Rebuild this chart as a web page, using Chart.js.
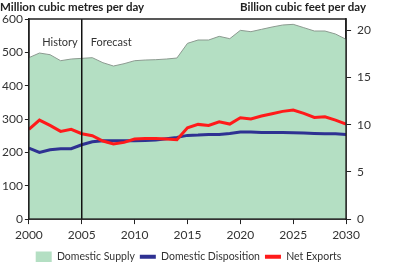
<!DOCTYPE html>
<html>
<head>
<meta charset="utf-8">
<script src="https://cdn.jsdelivr.net/npm/chart.js@4"></script>
<style>
html, body { margin: 0; padding: 0; background: #fff; }
#wrap { width: 400px; height: 269px; }
</style>
</head>
<body>
<div id="wrap"><canvas id="myChart"></canvas></div>
<script>
var years = [2000, 2001, 2002, 2003, 2004, 2005, 2006, 2007, 2008, 2009,
             2010, 2011, 2012, 2013, 2014, 2015, 2016, 2017, 2018, 2019,
             2020, 2021, 2022, 2023, 2024, 2025, 2026, 2027, 2028, 2029, 2030];
var domesticSupply = [484, 498, 493, 475, 480, 482, 484, 469, 459, 466,
                      475, 477, 478, 480, 483, 527, 537, 537, 548, 541,
                      566, 562, 569, 576, 582, 584, 574, 564, 564, 555, 539];
var domesticDisposition = [213, 200, 208, 211, 211, 223, 232, 235, 235, 235,
                           235, 236, 237, 241, 245, 251, 252, 254, 254, 257,
                           261, 261, 260, 260, 260, 259, 258, 257, 256, 256, 254];
var netExports = [269, 297, 281, 263, 269, 256, 250, 234, 225, 230,
                  240, 242, 242, 240, 238, 274, 284, 281, 292, 285,
                  304, 300, 309, 316, 323, 327, 317, 305, 307, 297, 285];
var xTicks = [2000, 2005, 2010, 2015, 2020, 2025, 2030];
var leftTicks = [0, 50, 100, 150, 200, 250, 300, 350, 400, 450, 500, 550, 600];
var rightTicks = [0, 5, 10, 15, 20];
var M3_PER_FT3 = 28.317; // million m3 per billion ft3
var splitYear = 2005;

var FONT = 'Lato, "Open Sans", sans-serif';

function pts(arr) {
    return arr.map(function (v, i) { return { x: years[i], y: v }; });
}

var overlay = {
    id: 'overlay',
    afterDatasetsDraw: function (chart) {
        var ctx = chart.ctx, a = chart.chartArea;
        var x = chart.scales.x.getPixelForValue(splitYear);
        ctx.save();
        ctx.strokeStyle = '#111';
        ctx.lineWidth = 1.5;
        ctx.beginPath();
        ctx.moveTo(x, a.top);
        ctx.lineTo(x, a.bottom);
        ctx.stroke();
        ctx.strokeStyle = '#222';
        ctx.lineWidth = 1.5;
        ctx.strokeRect(a.left, a.top, a.right - a.left, a.bottom - a.top);
        ctx.fillStyle = '#333';
        ctx.font = '11px ' + FONT;
        ctx.textBaseline = 'middle';
        ctx.textAlign = 'right';
        ctx.fillText('History', x - 4, 42);
        ctx.textAlign = 'left';
        ctx.fillText('Forecast', x + 9, 42);
        ctx.restore();
    },
    afterDraw: function (chart) {
        var ctx = chart.ctx;
        ctx.save();
        ctx.fillStyle = '#222';
        ctx.font = 'bold 11.5px ' + FONT;
        ctx.textBaseline = 'alphabetic';
        ctx.textAlign = 'left';
        ctx.fillText('Million cubic metres per day', 0, 11);
        ctx.textAlign = 'right';
        ctx.fillText('Billion cubic feet per day', 366, 11);
        ctx.restore();
    }
};

var ctx = document.getElementById('myChart').getContext('2d');
var myChart = new Chart(ctx, {
    type: 'line',
    data: {
        datasets: [
            {
                label: 'Domestic Supply',
                data: pts(domesticSupply),
                fill: 'origin',
                backgroundColor: '#b4dfc3',
                borderColor: '#8c9a90',
                borderWidth: 1,
                pointRadius: 0,
                tension: 0,
                order: 3,
                legendColor: '#b4dfc3',
            },
            {
                label: 'Domestic Disposition',
                data: pts(domesticDisposition),
                fill: false,
                borderColor: '#2e3192',
                borderWidth: 3,
                pointRadius: 0,
                tension: 0,
                order: 2,
                legendColor: '#2e3192',
            },
            {
                label: 'Net Exports',
                data: pts(netExports),
                fill: false,
                borderColor: '#ff1a1a',
                borderWidth: 3,
                pointRadius: 0,
                tension: 0,
                order: 1,
                legendColor: '#ff1a1a',
            },
        ],
    },
    options: {
        responsive: true,
        maintainAspectRatio: false,
        animation: false,
        layout: { padding: { top: 19, right: 23, left: 0, bottom: -3 } },
        plugins: {
            tooltip: { enabled: false },
            legend: {
                position: 'bottom',
                labels: {
                    usePointStyle: true,
                    pointStyleWidth: 16,
                    boxHeight: 11,
                    padding: 5,
                    color: '#333',
                    font: { family: FONT, size: 10.5 },
                    generateLabels: function (chart) {
                        return chart.data.datasets.map(function (ds, i) {
                            return {
                                text: ds.label,
                                fillStyle: ds.legendColor,
                                strokeStyle: ds.legendColor,
                                lineWidth: i === 0 ? 0 : 4,
                                pointStyle: i === 0 ? 'rect' : 'line',
                                fontColor: '#333',
                                hidden: false,
                                datasetIndex: i,
                            };
                        });
                    },
                },
            },
        },
        scales: {
            x: {
                type: 'linear',
                min: years[0],
                max: years[years.length - 1],
                afterBuildTicks: function (s) { s.ticks = xTicks.map(function (v) { return { value: v }; }); },
                ticks: {
                    color: '#333',
                    font: { family: FONT, size: 12 },
                    padding: 4,
                    maxRotation: 0,
                    callback: function (v) { return String(v); },
                },
                grid: { drawOnChartArea: false, tickLength: 5, tickColor: '#222' },
                border: { display: true, color: '#222', width: 1.5 },
            },
            y: {
                position: 'left',
                min: 0,
                max: 600,
                afterBuildTicks: function (s) { s.ticks = leftTicks.map(function (v) { return { value: v }; }); },
                ticks: {
                    color: '#333',
                    font: { family: FONT, size: 12 },
                    padding: 2,
                },
                grid: { drawOnChartArea: false, tickLength: 4, tickColor: '#222' },
                border: { display: true, color: '#222', width: 1.5 },
            },
            y2: {
                position: 'right',
                min: 0,
                max: 600 / M3_PER_FT3,
                afterBuildTicks: function (s) { s.ticks = rightTicks.map(function (v) { return { value: v }; }); },
                ticks: {
                    color: '#333',
                    font: { family: FONT, size: 12 },
                    padding: 6,
                },
                grid: { drawOnChartArea: false, tickLength: 5, tickColor: '#222' },
                border: { display: true, color: '#222', width: 1.5 },
            },
        },
    },
    plugins: [overlay],
});
</script>
</body>
</html>
